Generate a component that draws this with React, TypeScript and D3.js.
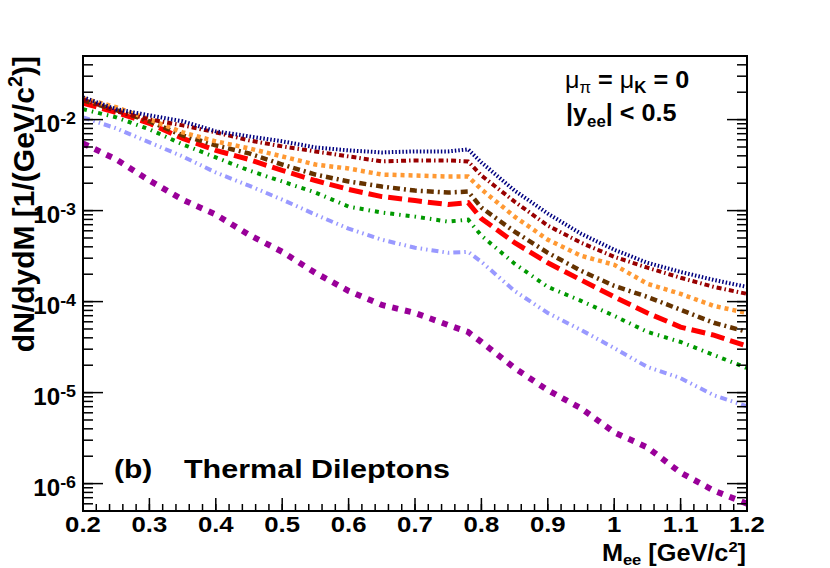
import React from "react";
import * as d3 from "d3";

const massGeV = [0.2, 0.25, 0.3, 0.35, 0.4, 0.45, 0.5, 0.55, 0.6, 0.65, 0.7, 0.75, 0.78, 0.8, 0.85, 0.9, 0.95, 1.0, 1.05, 1.1, 1.15, 1.2];

const navySeries = [0.0176, 0.013, 0.01115, 0.00958, 0.00743, 0.00655, 0.00577, 0.00495, 0.00459, 0.00436, 0.00447, 0.00447, 0.00471, 0.00338, 0.00166, 0.000927, 0.000557, 0.000372, 0.000267, 0.000212, 0.000173, 0.000145];
const maroonSeries = [0.0167, 0.01236, 0.01007, 0.00865, 0.00724, 0.00591, 0.00508, 0.00447, 0.00394, 0.00347, 0.00356, 0.00356, 0.00347, 0.00243, 0.001256, 0.000684, 0.000444, 0.000311, 0.000236, 0.000183, 0.000145, 0.0001216];
const orangeSeries = [0.01718, 0.01368, 0.01007, 0.00724, 0.00577, 0.00483, 0.00394, 0.00321, 0.0029, 0.00249, 0.00243, 0.00237, 0.00237, 0.00171, 0.000859, 0.000479, 0.000319, 0.000254, 0.000157, 0.0001216, 0.0000897, 0.000075];
const brownSeries = [0.01633, 0.01268, 0.00958, 0.00671, 0.00521, 0.00425, 0.00321, 0.00249, 0.00209, 0.00184, 0.00166, 0.00158, 0.00162, 0.001079, 0.000587, 0.000344, 0.000218, 0.000149, 0.0001127, 0.0000813, 0.0000585, 0.0000465];
const redSeries = [0.01514, 0.01202, 0.0091, 0.00622, 0.00459, 0.00365, 0.00276, 0.00214, 0.00171, 0.001426, 0.001288, 0.001164, 0.001225, 0.000817, 0.000444, 0.000267, 0.000173, 0.0001127, 0.000075, 0.0000525, 0.0000428, 0.0000324];
const greenSeries = [0.013, 0.0106, 0.00782, 0.00535, 0.00384, 0.00276, 0.00209, 0.00158, 0.001107, 0.000951, 0.000859, 0.000757, 0.000796, 0.00053, 0.000261, 0.000145, 0.000102, 0.0000697, 0.0000465, 0.000036, 0.0000259, 0.0000186];
const lightBlueSeries = [0.0106, 0.00801, 0.00562, 0.00394, 0.00262, 0.00188, 0.00132, 0.000904, 0.000633, 0.000479, 0.000391, 0.000344, 0.000353, 0.000274, 0.000131, 0.000075, 0.0000488, 0.0000309, 0.0000191, 0.0000144, 0.00000936, 0.00000708];
const purpleSeries = [0.00548, 0.00365, 0.00214, 0.00132, 0.000904, 0.000543, 0.000353, 0.000207, 0.000131, 0.000092, 0.000075, 0.0000553, 0.0000463, 0.000036, 0.0000186, 0.00001064, 0.00000673, 0.00000366, 0.0000025, 0.00000132, 0.000000838, 0.000000603];

const xTickLabels = ["0.2", "0.3", "0.4", "0.5", "0.6", "0.7", "0.8", "0.9", "1", "1.1", "1.2"];
const yDecadeExponents = [-6, -5, -4, -3, -2];

const seriesStyles = [
  { data: purpleSeries, color: "#990099", width: 6, dash: "6,7" },
  { data: lightBlueSeries, color: "#9999ff", width: 4, dash: "7,4,1.5,4,1.5,4" },
  { data: greenSeries, color: "#009900", width: 4, dash: "4,5,1.5,5" },
  { data: redSeries, color: "#ff0000", width: 5, dash: "14,6" },
  { data: brownSeries, color: "#663300", width: 4.5, dash: "7,4,2,4" },
  { data: orangeSeries, color: "#ff9933", width: 4.5, dash: "4,4" },
  { data: maroonSeries, color: "#990000", width: 4, dash: "5,3,1.5,3" },
  { data: navySeries, color: "#000080", width: 4, dash: "1.5,2" },
];

const FONT = "'Liberation Sans', Arial, Helvetica, sans-serif";

const L = 83, R = 747, T = 56, B = 511;

function SText(props: any) {
  const { x, y, anchor = "start", size = 22, weight = "bold", children, sx = 1.1 } = props;
  return (
    <text
      transform={`translate(${x},${y}) scale(${sx},1)`}
      textAnchor={anchor}
      fontSize={size}
      fontWeight={weight}
      fontFamily={FONT}
      fill="#000"
    >
      {children}
    </text>
  );
}

export default function App() {
  const x = d3.scaleLinear().domain([0.2, 1.2]).range([L, R]);
  const y = d3.scaleLog().domain([5e-7, 0.05]).range([B, T]);

  const line = d3
    .line<[number, number]>()
    .x((d) => x(d[0]))
    .y((d) => y(d[1]));

  const xMajor = d3.range(0, 11).map((i) => 0.2 + i * 0.1);
  const xMinor = d3.range(0, 51).map((i) => 0.2 + i * 0.02);

  const yMinor: number[] = [];
  for (let e = -7; e <= -2; e++) {
    for (let m = 1; m <= 9; m++) {
      const v = m * Math.pow(10, e);
      if (v >= 5e-7 && v <= 0.05 + 1e-12) yMinor.push(v);
    }
  }

  return (
    <svg
      width={830}
      height={568}
      style={{ position: "absolute", left: 0, top: 0, background: "#fff" }}
    >
      <defs>
        <clipPath id="plotClip">
          <rect x={L} y={T} width={R - L} height={B - T} />
        </clipPath>
      </defs>
      <rect x={0} y={0} width={830} height={568} fill="#fff" />

      <g clipPath="url(#plotClip)">
        {seriesStyles.map((s, i) => (
          <path
            key={i}
            d={line(massGeV.map((m, j) => [m, s.data[j]] as [number, number])) || ""}
            fill="none"
            stroke={s.color}
            strokeWidth={s.width}
            strokeDasharray={s.dash}
            strokeLinejoin="miter"
          />
        ))}
      </g>

      {/* x ticks */}
      {xMinor.map((v, i) => (
        <line key={"xm" + i} x1={x(v)} x2={x(v)} y1={B} y2={B - 7} stroke="#000" strokeWidth={1.5} />
      ))}
      {xMajor.map((v, i) => (
        <line key={"xM" + i} x1={x(v)} x2={x(v)} y1={B} y2={B - 13} stroke="#000" strokeWidth={1.5} />
      ))}
      {/* y ticks left and right */}
      {yMinor.map((v, i) => (
        <g key={"ym" + i}>
          <line x1={L} x2={L + 10} y1={y(v)} y2={y(v)} stroke="#000" strokeWidth={1.5} />
          <line x1={R} x2={R - 10} y1={y(v)} y2={y(v)} stroke="#000" strokeWidth={1.5} />
        </g>
      ))}
      {yDecadeExponents.map((e) => (
        <g key={"yM" + e}>
          <line x1={L} x2={L + 20} y1={y(Math.pow(10, e))} y2={y(Math.pow(10, e))} stroke="#000" strokeWidth={1.5} />
          <line x1={R} x2={R - 20} y1={y(Math.pow(10, e))} y2={y(Math.pow(10, e))} stroke="#000" strokeWidth={1.5} />
        </g>
      ))}

      {/* frame */}
      <rect x={L} y={T} width={R - L} height={B - T} fill="none" stroke="#000" strokeWidth={2} />

      {/* x tick labels */}
      {xMajor.map((v, i) => (
        <SText key={"xl" + i} x={x(v)} y={532} anchor="middle" size={23} sx={1.12}>
          {xTickLabels[i]}
        </SText>
      ))}

      {/* y tick labels */}
      {yDecadeExponents.map((e) => (
        <SText key={"yl" + e} x={76} y={y(Math.pow(10, e)) + 12} anchor="end" size={23} sx={1.05}>
          <tspan>10</tspan>
          <tspan dy={-8} fontSize={17}>{String(e)}</tspan>
        </SText>
      ))}

      {/* x axis title */}
      <SText x={746} y={561} anchor="end" size={23} sx={1.1}>
        <tspan>M</tspan>
        <tspan dy={4} fontSize={15}>ee</tspan>
        <tspan dy={-4}> [GeV/c</tspan>
        <tspan dy={-9} fontSize={15}>2</tspan>
        <tspan dy={9}>]</tspan>
      </SText>

      {/* y axis title */}
      <text
        transform={`translate(34,56) rotate(-90)`}
        textAnchor="end"
        fontSize={30}
        fontWeight="bold"
        fontFamily={FONT}
        fill="#000"
      >
        <tspan>dN/dydM [1/(GeV/c</tspan>
        <tspan dy={-12} fontSize={20}>2</tspan>
        <tspan dy={12}>)]</tspan>
      </text>

      {/* annotations */}
      <SText x={565} y={88} size={24} sx={1.05}>
        <tspan fontWeight="normal">μ</tspan>
        <tspan dy={5} fontSize={16} fontWeight="normal">π</tspan>
        <tspan dy={-5}> = </tspan>
        <tspan fontWeight="normal">μ</tspan>
        <tspan dy={5} fontSize={16}>K</tspan>
        <tspan dy={-5}> = 0</tspan>
      </SText>
      <SText x={566} y={121} size={24} sx={1.05}>
        <tspan>|y</tspan>
        <tspan dy={6} fontSize={16}>ee</tspan>
        <tspan dy={-6}>| &lt; 0.5</tspan>
      </SText>

      <SText x={114} y={478} size={25} sx={1.2}>
        (b)
      </SText>
      <SText x={184} y={478} size={25} sx={1.22}>
        Thermal Dileptons
      </SText>
    </svg>
  );
}
